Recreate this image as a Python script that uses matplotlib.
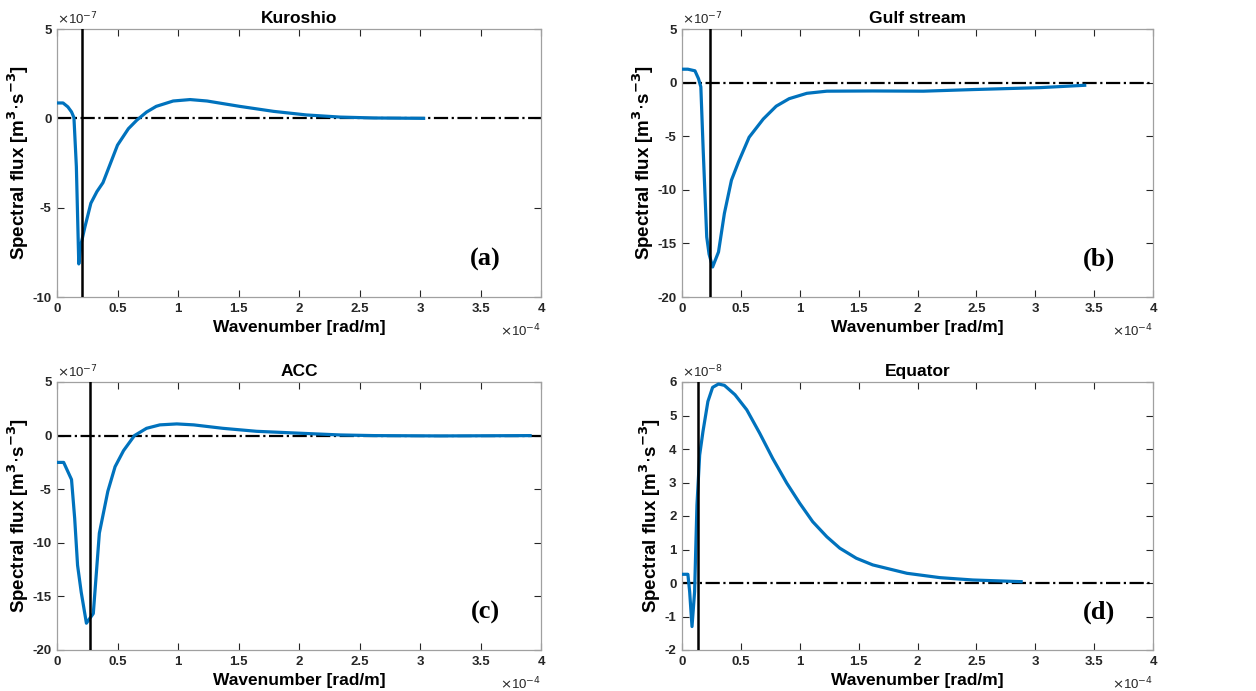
import numpy as np
import matplotlib
matplotlib.use('Agg')
import matplotlib.pyplot as plt

plt.rcParams['font.family'] = ['Liberation Sans', 'DejaVu Sans']
plt.rcParams['axes.unicode_minus'] = False

# Wavenumber in units of 1e-4 rad/m, flux in units of 1e-7 (1e-8 for Equator)
k_kuroshio = [0, 0.05, 0.09, 0.12, 0.14, 0.16, 0.18, 0.20, 0.23, 0.28, 0.33, 0.38,
              0.44, 0.50, 0.59, 0.66, 0.74, 0.82, 0.96, 1.10, 1.24, 1.51, 1.79,
              2.06, 2.34, 2.62, 3.03]
f_kuroshio = [0.86, 0.86, 0.64, 0.36, 0.04, -2.7, -8.15, -7.0, -6.1, -4.75, -4.1, -3.6,
              -2.55, -1.5, -0.58, -0.1, 0.35, 0.67, 0.97, 1.05, 0.97, 0.67, 0.39,
              0.19, 0.07, 0.02, 0.0]

k_gulf = [0, 0.05, 0.11, 0.14, 0.16, 0.18, 0.21, 0.23, 0.26, 0.31, 0.36, 0.42, 0.48,
          0.57, 0.69, 0.80, 0.91, 1.06, 1.23, 1.62, 2.05, 2.47, 3.04, 3.42]
f_gulf = [1.25, 1.25, 1.1, 0.37, -0.4, -6.3, -14.4, -16.0, -17.2, -15.8, -12.2, -9.1,
          -7.4, -5.1, -3.4, -2.2, -1.5, -1.0, -0.8, -0.78, -0.8, -0.65, -0.47, -0.25]

k_acc = [0, 0.055, 0.12, 0.146, 0.17, 0.20, 0.243, 0.30, 0.35, 0.42, 0.48, 0.55, 0.64,
         0.74, 0.85, 0.99, 1.13, 1.37, 1.65, 2.01, 2.34, 2.62, 3.17, 3.91]
f_acc = [-2.5, -2.5, -4.1, -7.7, -12.1, -14.6, -17.5, -16.6, -9.1, -5.2, -2.9, -1.4, 0.0,
         0.68, 1.0, 1.09, 1.0, 0.68, 0.4, 0.22, 0.06, 0.0, -0.03, 0.0]

k_equator = [0, 0.05, 0.065, 0.085, 0.107, 0.127, 0.15, 0.178, 0.22, 0.26, 0.31, 0.36,
             0.45, 0.55, 0.66, 0.77, 0.89, 1.0, 1.11, 1.23, 1.34, 1.48, 1.62, 1.91,
             2.19, 2.47, 2.88]
f_equator = [0.26, 0.26, -0.26, -1.3, -0.26, 2.33, 3.82, 4.52, 5.42, 5.84, 5.94, 5.9,
             5.62, 5.17, 4.47, 3.72, 2.98, 2.38, 1.83, 1.38, 1.04, 0.74, 0.54, 0.29,
             0.16, 0.09, 0.04]

titles = ['Kuroshio', 'Gulf stream', 'ACC', 'Equator']
letters = ['(a)', '(b)', '(c)', '(d)']
vlines = [0.21, 0.235, 0.27, 0.136]
ylims = [(-10, 5), (-20, 5), (-20, 5), (-2, 6)]
yticks = [[-10, -5, 0, 5], [-20, -15, -10, -5, 0, 5], [-20, -15, -10, -5, 0, 5],
          [-2, -1, 0, 1, 2, 3, 4, 5, 6]]
yexp = ['-7', '-7', '-7', '-8']
data = [(k_kuroshio, f_kuroshio), (k_gulf, f_gulf), (k_acc, f_acc), (k_equator, f_equator)]

W, H = 1256, 691
# axes boxes in pixels: left, top, right, bottom
boxes = [(57, 29, 541, 297), (682, 29, 1153, 297),
         (57, 382, 541, 650), (682, 382, 1153, 650)]

fig = plt.figure(figsize=(W / 100, H / 100), dpi=100)
axcol = '#262626'
blue = '#0072BD'

for i in range(4):
    l, t, r, b = boxes[i]
    ax = fig.add_axes([l / W, 1 - b / H, (r - l) / W, (b - t) / H])
    k, f = data[i]
    ax.plot(k, f, color=blue, lw=2.3, zorder=3)
    ax.axhline(0, color='black', lw=1.6, ls='-.', zorder=2)
    ax.axvline(vlines[i], color='black', lw=1.8, zorder=4)
    ax.set_xlim(0, 4)
    ax.set_ylim(*ylims[i])
    ax.set_xticks([0, 0.5, 1, 1.5, 2, 2.5, 3, 3.5, 4])
    ax.set_xticklabels(['0', '0.5', '1', '1.5', '2', '2.5', '3', '3.5', '4'])
    ax.set_yticks(yticks[i])
    ax.tick_params(direction='in', top=True, right=True, length=5, width=0.8,
                   colors=axcol, labelsize=9.5, pad=4)
    for lab in ax.get_xticklabels() + ax.get_yticklabels():
        lab.set_fontweight('bold')
    for sp in ax.spines.values():
        sp.set_color('#a0a0a0')
        sp.set_linewidth(0.9)
    ax.set_title(titles[i], fontsize=12.5, fontweight='bold', pad=4)
    ax.set_xlabel('Wavenumber [rad/m]', fontsize=12.5, fontweight='bold', labelpad=4)
    ax.set_ylabel(r'Spectral flux [m$^{\mathbf{3}}$$\cdot$s$^{\mathbf{-3}}$]',
                  fontsize=13.5, fontweight='bold', labelpad=1)
    ax.text(0.0, 1.005, r'$\times$10$^{%s}$' % yexp[i], transform=ax.transAxes,
            fontsize=9.5, ha='left', va='bottom', color=axcol)
    ax.text(1.0, -0.095, r'$\times$10$^{-4}$', transform=ax.transAxes,
            fontsize=9.5, ha='right', va='top', color=axcol)
    ax.text(0.885, 0.14, letters[i], transform=ax.transAxes, fontsize=19,
            fontweight='bold', family='Liberation Serif', ha='center', va='center')

fig.savefig('out.png', dpi=100)
